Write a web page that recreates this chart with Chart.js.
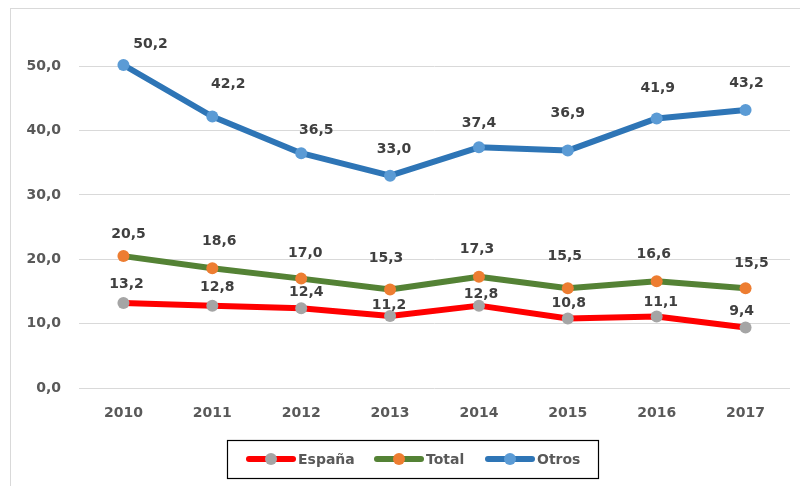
<!DOCTYPE html>
<html>
<head>
<meta charset="utf-8">
<script src="https://cdn.jsdelivr.net/npm/chart.js@4.4.1/dist/chart.umd.min.js"></script>
<style>
  html, body { margin: 0; padding: 0; background: #ffffff; }
  #wrap { width: 800px; height: 486px; position: relative; }
</style>
</head>
<body>
<div id="wrap"><canvas id="c" width="800" height="486"></canvas></div>
<script>
// ---- Data ----
const categories = ['2010', '2011', '2012', '2013', '2014', '2015', '2016', '2017'];
const espana = [13.2, 12.8, 12.4, 11.2, 12.8, 10.8, 11.1, 9.4];
const total  = [20.5, 18.6, 17.0, 15.3, 17.3, 15.5, 16.6, 15.5];
const otros  = [50.2, 42.2, 36.5, 33.0, 37.4, 36.9, 41.9, 43.2];
const yTickValues = [0, 10, 20, 30, 40, 50];
const seriesNames = ['España', 'Total', 'Otros'];

// ---- Style: data label nudges (px) relative to each point ----
const espanaLabelNudge = [[3,-19],[5,-18],[5,-16],[-1,-11],[2,-11],[1,-15],[4,-14],[-4,-16]];
const totalLabelNudge  = [[5,-22],[7,-27],[4,-25],[-4,-31],[-2,-27],[-3,-32],[-3,-27],[6,-25]];
const otrosLabelNudge  = [[27,-21],[16,-32],[15,-23],[4,-26],[0,-24],[0,-37],[1,-30],[1,-27]];

const FONT = '"DejaVu Sans", sans-serif';
const fmt = v => v.toFixed(1).replace('.', ',');

const labelPlugin = {
  id: 'labels',
  afterDatasetsDraw(chart) {
    const ctx = chart.ctx;
    ctx.save();
    ctx.font = 'bold 14px ' + FONT;
    ctx.fillStyle = '#404040';
    ctx.textAlign = 'center';
    ctx.textBaseline = 'middle';
    chart.data.datasets.forEach((ds, i) => {
      const meta = chart.getDatasetMeta(i);
      meta.data.forEach((pt, j) => {
        const n = ds.labelNudge[j];
        ctx.fillText(fmt(ds.data[j]), pt.x + n[0], pt.y + n[1]);
      });
    });
    ctx.restore();
  }
};

const frameLegendPlugin = {
  id: 'frameLegend',
  afterDraw(chart) {
    const ctx = chart.ctx;
    ctx.save();
    ctx.strokeStyle = '#D9D9D9';
    ctx.lineWidth = 1;
    ctx.strokeRect(10.5, 8.5, 900, 600);
    ctx.strokeStyle = '#000000';
    ctx.lineWidth = 1.2;
    ctx.strokeRect(227.5, 440.5, 371, 38);
    const cy = 459;
    const starts = [247, 375, 486];
    ctx.font = 'bold 14px ' + FONT;
    ctx.textBaseline = 'middle';
    ctx.textAlign = 'left';
    chart.data.datasets.forEach((ds, i) => {
      const x0 = starts[i];
      ctx.strokeStyle = ds.borderColor;
      ctx.lineWidth = 6;
      ctx.lineCap = 'round';
      ctx.beginPath();
      ctx.moveTo(x0 + 2, cy);
      ctx.lineTo(x0 + 46, cy);
      ctx.stroke();
      ctx.fillStyle = ds.pointBackgroundColor;
      ctx.beginPath();
      ctx.arc(x0 + 24, cy, 6, 0, Math.PI * 2);
      ctx.fill();
      ctx.fillStyle = '#595959';
      ctx.fillText(ds.label, x0 + 51, cy + 1);
    });
    ctx.restore();
  }
};

function mkDataset(label, data, lineColor, pointColor, nudge) {
  return {
    label: label,
    data: data,
    borderColor: lineColor,
    backgroundColor: lineColor,
    borderWidth: 6,
    pointRadius: 6,
    pointHoverRadius: 6,
    pointBackgroundColor: pointColor,
    pointBorderColor: pointColor,
    pointBorderWidth: 0,
    borderCapStyle: 'round',
    borderJoinStyle: 'round',
    tension: 0,
    fill: false,
    labelNudge: nudge
  };
}

new Chart(document.getElementById('c'), {
  type: 'line',
  data: {
    labels: categories,
    datasets: [
      mkDataset(seriesNames[0], espana, '#FF0000', '#A5A5A5', espanaLabelNudge),
      mkDataset(seriesNames[1], total, '#548235', '#ED7D31', totalLabelNudge),
      mkDataset(seriesNames[2], otros, '#2E75B6', '#5B9BD5', otrosLabelNudge)
    ]
  },
  options: {
    responsive: false,
    animation: false,
    devicePixelRatio: 1,
    layout: { padding: { left: 0, right: 10, top: 0, bottom: 58 } },
    plugins: {
      legend: { display: false },
      tooltip: { enabled: false }
    },
    scales: {
      x: {
        offset: true,
        grid: { display: false, drawTicks: false },
        border: { display: false },
        ticks: {
          color: '#595959',
          font: { family: FONT, size: 14, weight: 'bold' },
          padding: 17,
          maxRotation: 0
        },
        afterFit(scale) { scale.height = 40; }
      },
      y: {
        min: 0,
        max: 56.2,
        grid: { color: '#D9D9D9', lineWidth: 1, drawTicks: false },
        border: { display: false },
        afterBuildTicks(scale) { scale.ticks = yTickValues.map(v => ({ value: v })); },
        afterFit(scale) { scale.width = 79; },
        ticks: {
          color: '#595959',
          font: { family: FONT, size: 14, weight: 'bold' },
          padding: 18,
          callback: v => fmt(v)
        }
      }
    }
  },
  plugins: [labelPlugin, frameLegendPlugin]
});
</script>
</body>
</html>
